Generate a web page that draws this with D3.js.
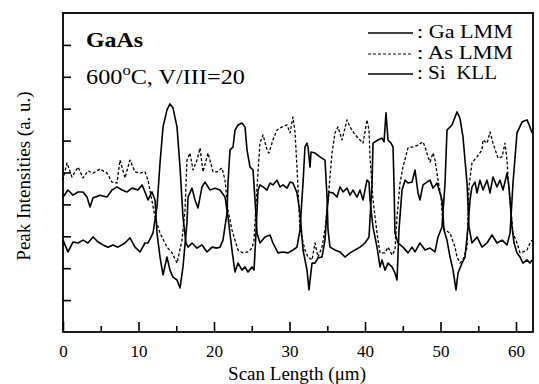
<!DOCTYPE html>
<html><head><meta charset="utf-8">
<script src="https://cdn.jsdelivr.net/npm/d3@7"></script>
<style>
body{margin:0;background:#fff;}
svg{display:block;}
text{font-family:"Liberation Serif","Times New Roman",serif;fill:#000;}
</style></head>
<body><svg id="c" width="539" height="384"></svg>
<script>
// x ticks (µm) and y ticks (a.u., unlabeled)
const xMajorTicks = [0, 10, 20, 30, 40, 50, 60];
const xMinorTicks = [5, 15, 25, 35, 45, 55];
const yTicks = [1, 2, 3, 4, 5, 6, 7, 8, 9];
const seriesNames = ["Ga LMM", "As LMM", "Si KLL"];

// [scan length µm, peak intensity a.u.]
const gaLMM = [[0,4.23],[0.66,4.45],[1.32,4.29],[1.99,4.39],[2.65,4.39],[3.18,4.23],[3.58,3.92],[3.97,4.20],[4.90,4.29],[5.83,4.23],[6.49,4.45],[7.15,4.55],[7.81,4.45],[8.48,4.39],[9.14,4.51],[9.93,4.45],[10.46,4.61],[10.86,4.39],[11.26,4.14],[11.79,4.39],[12.19,4.14],[12.45,3.10],[12.85,2.35],[13.25,1.79],[13.77,2.35],[14.17,1.94],[14.57,1.72],[15.10,1.63],[15.50,1.38],[15.89,2.04],[16.42,3.42],[16.56,4.23],[17.09,4.51],[17.48,4.14],[17.88,3.89],[18.41,4.55],[18.81,4.70],[19.47,4.45],[20.13,4.51],[20.79,4.45],[21.46,4.23],[21.85,3.61],[22.38,2.57],[22.78,1.88],[23.18,2.16],[23.71,1.94],[24.11,2.04],[24.50,1.88],[25.03,2.04],[25.30,1.94],[25.56,3.10],[25.83,4.45],[26.09,4.61],[26.49,4.55],[27.02,4.45],[27.42,4.67],[27.81,4.61],[28.34,4.76],[28.74,4.55],[29.14,4.61],[29.67,4.51],[30.07,4.70],[30.46,4.67],[30.99,4.36],[31.39,3.73],[31.79,2.57],[32.32,1.94],[32.58,1.32],[32.98,2.16],[33.38,2.16],[33.77,2.32],[34.30,2.35],[34.70,2.88],[34.97,3.82],[35.23,4.39],[35.76,4.36],[36.29,4.23],[36.69,4.55],[37.09,4.39],[37.62,4.51],[38.01,4.29],[38.41,4.45],[38.94,4.23],[39.34,4.45],[39.74,4.14],[40.26,4.76],[40.53,4.70],[40.66,4.14],[41.06,3.29],[41.59,2.66],[41.99,2.04],[42.25,2.26],[42.65,1.94],[43.05,2.16],[43.58,2.04],[43.97,1.85],[44.24,1.63],[44.50,3.20],[44.90,4.45],[45.30,4.76],[45.70,4.67],[46.23,4.70],[46.62,5.08],[47.02,4.36],[47.28,4.14],[47.68,4.61],[48.21,4.70],[48.61,4.76],[49.01,4.51],[49.54,4.67],[49.93,4.36],[50.20,4.14],[50.46,3.20],[50.86,2.88],[51.26,2.35],[51.66,1.94],[52.05,1.32],[52.32,1.85],[52.85,2.16],[53.25,2.35],[53.64,3.29],[53.91,4.14],[54.17,4.55],[54.57,4.70],[54.83,4.36],[55.23,4.76],[55.63,4.45],[56.16,4.76],[56.56,4.36],[56.95,4.86],[57.48,4.55],[57.88,4.76],[58.28,4.45],[58.81,4.98],[59.07,4.55],[59.47,3.29],[59.74,2.79],[60.13,2.48],[60.53,2.35],[60.93,2.16],[61.46,2.26],[61.85,2.16],[62.12,2.26]];

const asLMM = [[0,4.76],[0.53,5.30],[1.19,4.86],[1.99,5.17],[2.65,4.83],[3.31,5.05],[3.97,4.98],[4.90,5.11],[5.83,4.98],[6.49,4.70],[7.15,4.67],[7.55,5.39],[8.21,4.83],[8.87,5.39],[9.54,5.02],[10.20,4.98],[10.86,5.02],[11.26,4.76],[12.19,3.61],[12.85,3.10],[13.77,2.66],[14.44,2.48],[15.10,2.16],[15.76,2.88],[16.16,3.82],[16.42,5.39],[16.82,5.61],[17.22,5.08],[17.75,5.39],[18.15,5.77],[18.54,5.02],[19.21,5.61],[19.87,5.02],[20.40,5.02],[21.06,5.14],[21.46,4.76],[21.85,3.82],[22.38,3.20],[22.78,2.88],[23.18,2.57],[23.84,2.48],[24.50,2.51],[25.03,2.63],[25.30,2.88],[25.70,4.55],[26.09,5.92],[26.49,6.18],[27.02,5.71],[27.28,5.61],[27.81,6.02],[28.34,6.33],[29.01,6.43],[29.67,6.49],[30.07,6.24],[30.46,6.74],[30.73,6.27],[30.99,5.17],[31.39,3.20],[32.05,2.57],[32.45,2.35],[32.98,2.26],[33.38,2.79],[33.77,2.35],[34.30,2.66],[34.70,3.20],[35.10,4.14],[35.63,5.61],[36.03,6.24],[36.42,6.43],[36.95,6.02],[37.62,6.65],[38.01,6.43],[38.68,6.18],[39.34,6.02],[39.74,5.92],[40.26,6.65],[40.53,6.33],[40.66,5.49],[41.06,4.14],[41.59,3.10],[41.99,2.48],[42.65,2.48],[43.05,2.66],[43.58,2.41],[43.97,2.57],[44.24,3.61],[44.64,4.67],[45.03,5.17],[45.70,5.77],[46.36,5.80],[47.02,5.86],[47.68,5.96],[47.95,5.80],[48.34,5.49],[48.61,5.33],[49.01,5.61],[49.27,5.39],[49.67,4.76],[50.07,4.23],[50.33,3.29],[50.60,3.20],[51.26,3.10],[51.92,2.66],[52.19,2.35],[52.58,2.16],[52.98,2.26],[53.51,2.66],[53.77,4.55],[54.17,5.30],[54.83,5.49],[55.50,5.71],[55.63,6.02],[56.16,5.92],[56.56,6.27],[56.95,5.92],[57.62,5.45],[58.15,5.49],[58.54,5.92],[58.81,5.39],[58.94,4.86],[59.21,4.14],[59.60,3.10],[60.13,2.79],[60.53,2.48],[60.93,2.51],[61.46,2.57],[61.85,2.79],[62.12,2.88]];

const siKLL = [[0,2.88],[0.66,2.51],[1.32,2.82],[1.99,2.79],[2.65,2.88],[3.31,2.79],[3.97,2.98],[4.64,2.82],[5.30,2.73],[5.96,2.66],[6.62,2.73],[7.28,2.66],[8.21,2.79],[8.87,2.95],[9.54,2.66],[10.20,2.51],[10.86,2.79],[11.26,2.79],[11.92,3.10],[12.45,3.92],[12.85,5.30],[13.25,6.43],[13.77,6.96],[14.17,7.15],[14.57,7.02],[15.10,6.43],[15.50,5.17],[15.89,3.61],[16.29,2.79],[16.56,2.66],[17.09,2.79],[17.75,2.63],[18.41,2.73],[19.07,2.51],[19.74,2.66],[20.40,2.63],[20.79,2.66],[21.19,2.88],[21.72,3.73],[21.85,4.67],[22.12,5.71],[22.52,5.80],[22.78,6.33],[23.18,6.49],[23.71,6.55],[24.11,6.43],[24.37,5.71],[24.77,5.17],[25.17,5.08],[25.43,4.14],[25.70,3.10],[26.09,2.79],[26.75,2.98],[27.42,3.04],[27.81,2.79],[28.48,2.48],[29.14,2.51],[29.80,2.48],[30.46,2.57],[30.99,2.66],[31.39,3.20],[31.79,4.67],[32.05,5.80],[32.32,5.92],[32.45,5.80],[32.72,5.17],[32.85,5.64],[33.38,5.61],[34.04,5.49],[34.70,5.39],[34.97,4.23],[35.10,3.20],[35.36,2.66],[36.03,2.57],[36.69,2.51],[37.35,2.35],[38.01,2.48],[38.68,2.57],[39.34,2.66],[40.00,2.79],[40.53,2.98],[40.93,4.67],[41.06,5.92],[41.72,6.02],[42.25,6.08],[42.52,5.96],[42.78,6.87],[43.05,6.02],[43.44,5.92],[43.71,5.80],[43.84,4.67],[43.97,3.10],[44.37,2.79],[45.03,2.66],[45.70,2.48],[46.23,2.66],[46.62,2.51],[47.28,2.79],[47.95,2.57],[48.61,2.63],[49.27,2.51],[49.67,2.98],[50.20,3.29],[50.60,4.67],[50.86,6.33],[51.52,6.49],[52.19,6.90],[52.58,6.70],[52.98,6.11],[53.51,4.67],[53.77,3.29],[54.17,2.79],[54.83,2.98],[55.50,2.66],[56.16,2.79],[56.82,3.04],[57.48,2.79],[58.15,2.88],[58.81,2.73],[59.21,3.10],[59.60,4.67],[60.13,6.24],[60.79,6.58],[61.46,6.65],[61.85,6.43],[62.12,6.24]];

const svg = d3.select("#c");
const x = d3.scaleLinear().domain([0, 62.25]).range([63, 533]);
const y = d3.scaleLinear().domain([0, 10]).range([332, 13]);

// axes (inward ticks)
const gx = svg.append("g").attr("transform", `translate(0,${y(0)})`)
  .call(d3.axisBottom(x).tickValues(xMajorTicks).tickSize(-10).tickPadding(13).tickFormat(d3.format("d")));
gx.selectAll("text").style("font-size", "17px");
const gxm = svg.append("g").attr("transform", `translate(0,${y(0)})`)
  .call(d3.axisBottom(x).tickValues(xMinorTicks).tickSize(-6).tickFormat(""));
const gy = svg.append("g").attr("transform", `translate(${x(0)},0)`)
  .call(d3.axisLeft(y).tickValues(yTicks).tickSize(-8).tickFormat(""));
[gx, gxm, gy].forEach(g => {
  g.select(".domain").remove();
  g.selectAll("line").attr("stroke", "#000").attr("stroke-width", 1.6);
  g.attr("font-family", null);
});

// frame
svg.append("rect").attr("x", x(0)).attr("y", y(10))
  .attr("width", x(62.25) - x(0)).attr("height", y(0) - y(10))
  .attr("fill", "none").attr("stroke", "#000").attr("stroke-width", 1.8);

const line = d3.line().x(d => x(d[0])).y(d => y(d[1]));
const series = [
  {name: seriesNames[0], data: gaLMM, dash: null, len: 96},
  {name: seriesNames[1], data: asLMM, dash: "3,2", len: 96},
  {name: seriesNames[2], data: siKLL, dash: null, len: 80}
];
svg.append("g").selectAll("path").data(series).join("path")
  .attr("d", d => line(d.data)).attr("fill", "none").attr("stroke", "#000")
  .attr("stroke-width", d => d.dash ? 1.3 : 1.6)
  .attr("stroke-dasharray", d => d.dash)
  .attr("stroke-linejoin", "round");

// legend
const lg = svg.append("g");
const legendRows = [33, 54, 74];
series.forEach((s, i) => {
  lg.append("line").attr("x1", 368).attr("x2", 413).attr("y1", legendRows[i]).attr("y2", legendRows[i])
    .attr("stroke", "#000").attr("stroke-width", s.dash ? 1.2 : 1.4).attr("stroke-dasharray", s.dash);
  lg.append("text").attr("x", 417).attr("y", legendRows[i] + 5).style("font-size", "18px")
    .attr("textLength", s.len).attr("lengthAdjust", "spacingAndGlyphs")
    .text(": " + s.name.replace(" ", i === 2 ? "\u00a0\u00a0" : " "));
});

// annotations
svg.append("text").attr("x", 86).attr("y", 47).style("font-size", "22px").style("font-weight", "bold")
  .attr("textLength", 57).attr("lengthAdjust", "spacingAndGlyphs").text("GaAs");
const t2 = svg.append("text").attr("x", 86).attr("y", 84).style("font-size", "22px")
  .attr("textLength", 159).attr("lengthAdjust", "spacingAndGlyphs");
t2.append("tspan").text("600");
t2.append("tspan").attr("dy", -9).style("font-size", "15px").text("o");
t2.append("tspan").attr("dy", 9).text("C, V/III=20");

// axis titles
svg.append("text").attr("x", x(31)).attr("y", 380).attr("text-anchor", "middle").style("font-size", "19px")
  .text("Scan Length (\u03bcm)");
svg.append("text").attr("transform", "translate(30,176) rotate(-90)").attr("text-anchor", "middle").style("font-size", "19px")
  .text("Peak Intensities (a. u.)");
</script></body></html>
